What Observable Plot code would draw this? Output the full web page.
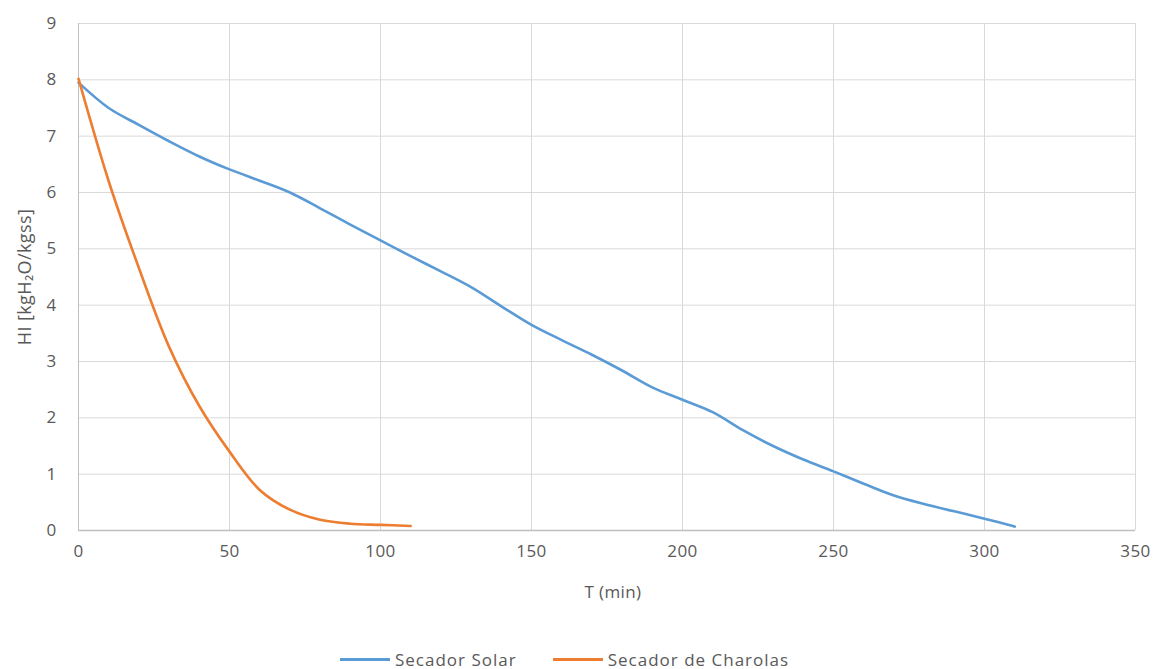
<!DOCTYPE html>
<html>
<head>
<meta charset="utf-8">
<script src="https://cdn.jsdelivr.net/npm/d3@7"></script>
<script src="https://cdn.jsdelivr.net/npm/@observablehq/plot@0.6"></script>
<style>
  html, body { margin: 0; padding: 0; background: #fff; }
  #chart { width: 1156px; }
  .legend { display: flex; align-items: center; margin-left: 340px; height: 28px;
    font-family: "Open Sans", sans-serif; font-size: 17px; letter-spacing: 1px; color: #595959; }
  .legend .item { display: flex; align-items: center; margin-right: 36px; }
  .legend .sw { width: 50px; height: 3px; margin-right: 5px; }
</style>
</head>
<body>
<div id="chart"></div>
<script>
const seriesNames = ["Secador Solar", "Secador de Charolas"];
const seriesColors = ["#5b9bd5", "#ed7d31"];

const solarT = [0,10,20,30,40,50,60,70,80,90,100,110,120,130,140,150,160,170,180,190,200,210,220,230,240,250,260,270,280,290,300,310];
const solarHI = [7.95,7.5,7.2,6.91,6.64,6.41,6.21,6.0,5.72,5.43,5.15,4.87,4.6,4.32,3.98,3.65,3.38,3.12,2.84,2.54,2.32,2.1,1.78,1.5,1.26,1.05,0.83,0.62,0.47,0.34,0.21,0.07];

const charolasT = [0,10,20,30,40,50,60,70,80,90,100,110];
const charolasHI = [8.02,6.2,4.66,3.26,2.21,1.4,0.72,0.37,0.19,0.12,0.1,0.08];

const xTicks = [0,50,100,150,200,250,300,350];
const yTicks = [0,1,2,3,4,5,6,7,8,9];

const data = [
  ...solarT.map((t, i) => ({t, hi: solarHI[i], s: seriesNames[0]})),
  ...charolasT.map((t, i) => ({t, hi: charolasHI[i], s: seriesNames[1]}))
];

const font = "'Open Sans', sans-serif";
const gray = "#595959";

const chart = Plot.plot({
  width: 1156,
  height: 645,
  marginLeft: 78,
  marginRight: 21,
  marginTop: 23,
  marginBottom: 115,
  style: {fontFamily: font, fontSize: "17px", color: gray, background: "#fff", letterSpacing: "0.4px"},
  x: {domain: [0, 350], ticks: xTicks},
  y: {domain: [0, 9], ticks: yTicks},
  color: {domain: seriesNames, range: seriesColors},
  marks: [
    Plot.gridX(xTicks.filter(d => d > 0), {stroke: "#d9d9d9", strokeOpacity: 1, strokeWidth: 1}),
    Plot.gridY(yTicks.filter(d => d > 0), {stroke: "#d9d9d9", strokeOpacity: 1, strokeWidth: 1}),
    Plot.ruleY([0], {stroke: "#bfbfbf", strokeWidth: 1.5}),
    Plot.ruleX([0], {stroke: "#bfbfbf", strokeWidth: 1}),
    Plot.axisX(xTicks, {tickSize: 0, tickPadding: 14, label: null, fill: gray, fontSize: 17, tickFormat: d3.format("d")}),
    Plot.axisY(yTicks, {tickSize: 0, tickPadding: 22, label: null, fill: gray, fontSize: 17, tickFormat: d3.format("d")}),
    Plot.line(data, {x: "t", y: "hi", stroke: "s", z: "s", strokeWidth: 2.6, curve: "catmull-rom"}),
    Plot.text(["T (min)"], {frameAnchor: "bottom", textAnchor: "middle", dx: 6, dy: 67, fill: gray, fontSize: 17}),
    Plot.text(["HI [kgH₂O/kgss]"], {frameAnchor: "left", textAnchor: "middle", dx: -53, rotate: -90, fill: gray, fontSize: 18, style: {letterSpacing: "1.2px"}})
  ]
});
document.getElementById("chart").appendChild(chart);

const legend = document.createElement("div");
legend.className = "legend";
seriesNames.forEach((name, i) => {
  const item = document.createElement("div");
  item.className = "item";
  const sw = document.createElement("div");
  sw.className = "sw";
  sw.style.background = seriesColors[i];
  const label = document.createElement("span");
  label.textContent = name;
  item.appendChild(sw);
  item.appendChild(label);
  legend.appendChild(item);
});
document.getElementById("chart").appendChild(legend);
</script>
</body>
</html>
